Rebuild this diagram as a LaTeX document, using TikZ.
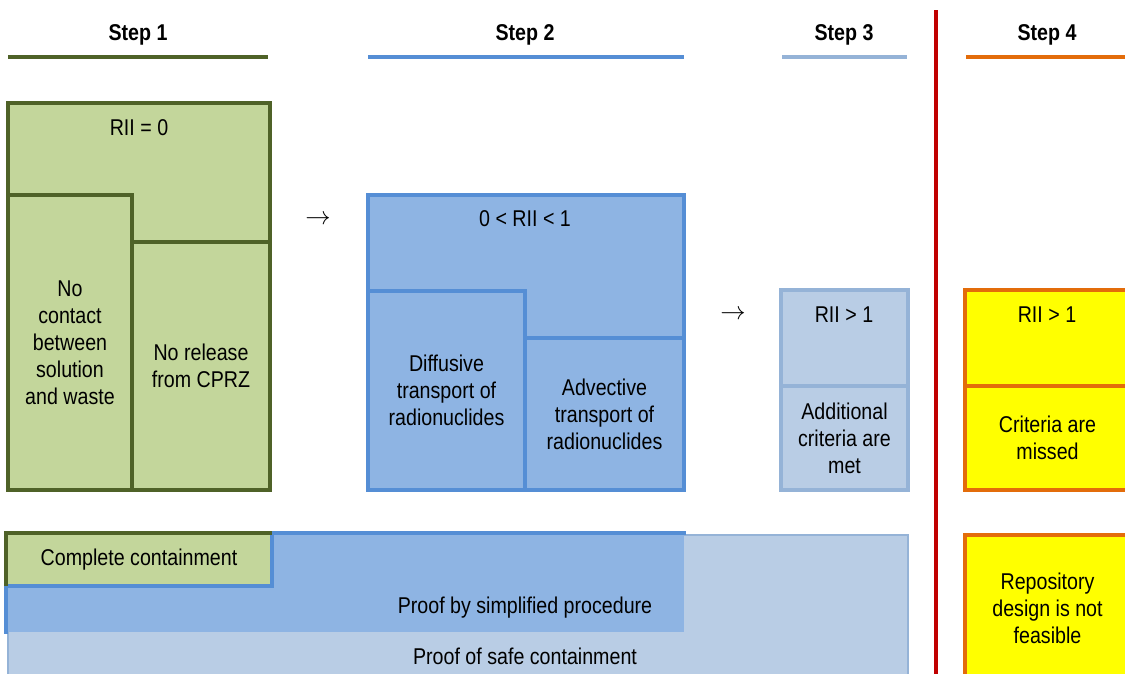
\documentclass[tikz,border=0pt]{standalone}
\usepackage{fontspec}
\setmainfont{Liberation Sans}[FakeStretch=0.86]
\usepackage{xcolor}
\usepackage{tikz}
\usetikzlibrary{positioning, fit}
\definecolor{oliveline}{HTML}{4F6228}
\definecolor{greenfill}{HTML}{C3D69B}
\definecolor{blueline}{HTML}{558ED5}
\definecolor{bluefill}{HTML}{8EB4E3}
\definecolor{paleline}{HTML}{95B3D7}
\definecolor{palefill}{HTML}{B9CDE5}
\definecolor{orangeline}{HTML}{E36C0A}
\definecolor{yellowfill}{HTML}{FFFF00}
\definecolor{redline}{HTML}{C00000}
\newcommand{\fsz}{\fontsize{13}{15.4}\selectfont}
\tikzset{
  box/.style     = {rectangle, inner sep=0pt, line width=2.2pt},
  greenbox/.style  = {box, draw=oliveline, fill=greenfill},
  bluebox/.style   = {box, draw=blueline, fill=bluefill},
  palebox/.style   = {box, draw=paleline, fill=palefill},
  yellowbox/.style = {box, draw=orangeline, fill=yellowfill},
  txt/.style     = {align=center, font=\fsz, inner sep=1pt},
  head/.style    = {font=\fsz\bfseries, inner sep=1pt},
  headline/.style = {line width=2.4pt},
}

\begin{document}
\begin{tikzpicture}[x=0.02cm, y=-0.02cm]
  \useasboundingbox (0,0) rectangle (1125,673);

  % step headers
  \node[head] (h1) at (138,35)  {Step 1};
  \node[head] (h2) at (525,35)  {Step 2};
  \node[head] (h3) at (844,35)  {Step 3};
  \node[head] (h4) at (1047,35) {Step 4};
  \draw[headline, oliveline]  (8,57)   -- (268,57);
  \draw[headline, blueline]   (368,57) -- (684,57);
  \draw[headline, paleline]   (782,57) -- (907,57);
  \draw[headline, orangeline] (966,57) -- (1130,57);
  \draw[line width=2.4pt, redline] (936,10) -- (936,680);

  % step 1
  \node[greenbox, fit={(8,103) (270,490)}] (s1) {};
  \node[txt] (rii0) at (139,128) {RII = 0};
  \node[greenbox, fit={(8,195) (132,490)}] (nocontact) {};
  \node[txt] at (nocontact.center) {No\\contact\\between\\solution\\and waste};
  \node[greenbox, fit={(132,242) (270,490)}] (norelease) {};
  \node[txt] at (norelease.center) {No release\\from CPRZ};
  \node[txt, font=\fontsize{14}{16}\selectfont] (arr1) at (318,220) {$\rightarrow$};

  % step 2
  \node[bluebox, fit={(368,195) (684,490)}] (s2) {};
  \node[txt] (rii01) at (525,219) {0 < RII < 1};
  \node[bluebox, fit={(368,291) (525,490)}] (diff) {};
  \node[txt] at (diff.center) {Diffusive\\transport of\\radionuclides};
  \node[bluebox, fit={(525,338) (684,490)}] (adv) {};
  \node[txt] at (adv.center) {Advective\\transport of\\radionuclides};
  \node[txt, font=\fontsize{14}{16}\selectfont] (arr2) at (733,315) {$\rightarrow$};

  % step 3
  \node[palebox, fit={(781,290) (908,490)}] (s3) {};
  \node[txt] (rii1a) at (844,315) {RII > 1};
  \node[palebox, fit={(781,386) (908,490)}] (addmet) {};
  \node[txt] at (addmet.center) {Additional\\criteria are\\met};

  % step 4
  \node[yellowbox, fit={(965,290) (1130,490)}] (s4) {};
  \node[txt] (rii1b) at (1047,315) {RII > 1};
  \node[yellowbox, fit={(965,386) (1130,490)}] (missed) {};
  \node[txt] at (missed.center) {Criteria are\\missed};
  \node[yellowbox, fit={(965,535) (1130,681)}] (notfeas) {};
  \node[txt] at (notfeas.center) {Repository\\design is not\\feasible};

  % proof bands
  \node[palebox, line width=1.6pt, fit={(8,535) (908,690)}] (safe) {};
  \node[txt] (safetxt) at (525,656) {Proof of safe containment};
  \node[box, fill=bluefill, fit={(8,535) (684,632)}] (simp) {};
  \draw[line width=2pt, blueline] (simp.south west) |- (simp.north east);
  \node[txt] (simptxt) at (525,608) {Proof by simplified procedure};
  \node[box, fill=greenfill, fit={(8,535) (270,584)}] (compl) {};
  \draw[line width=2pt, blueline] (compl.north east) |- (compl.south west);
  \draw[line width=2.2pt, oliveline] (compl.south west) |- (compl.north east);
  \node[txt] at (compl.center) {Complete containment};
\end{tikzpicture}
\end{document}
